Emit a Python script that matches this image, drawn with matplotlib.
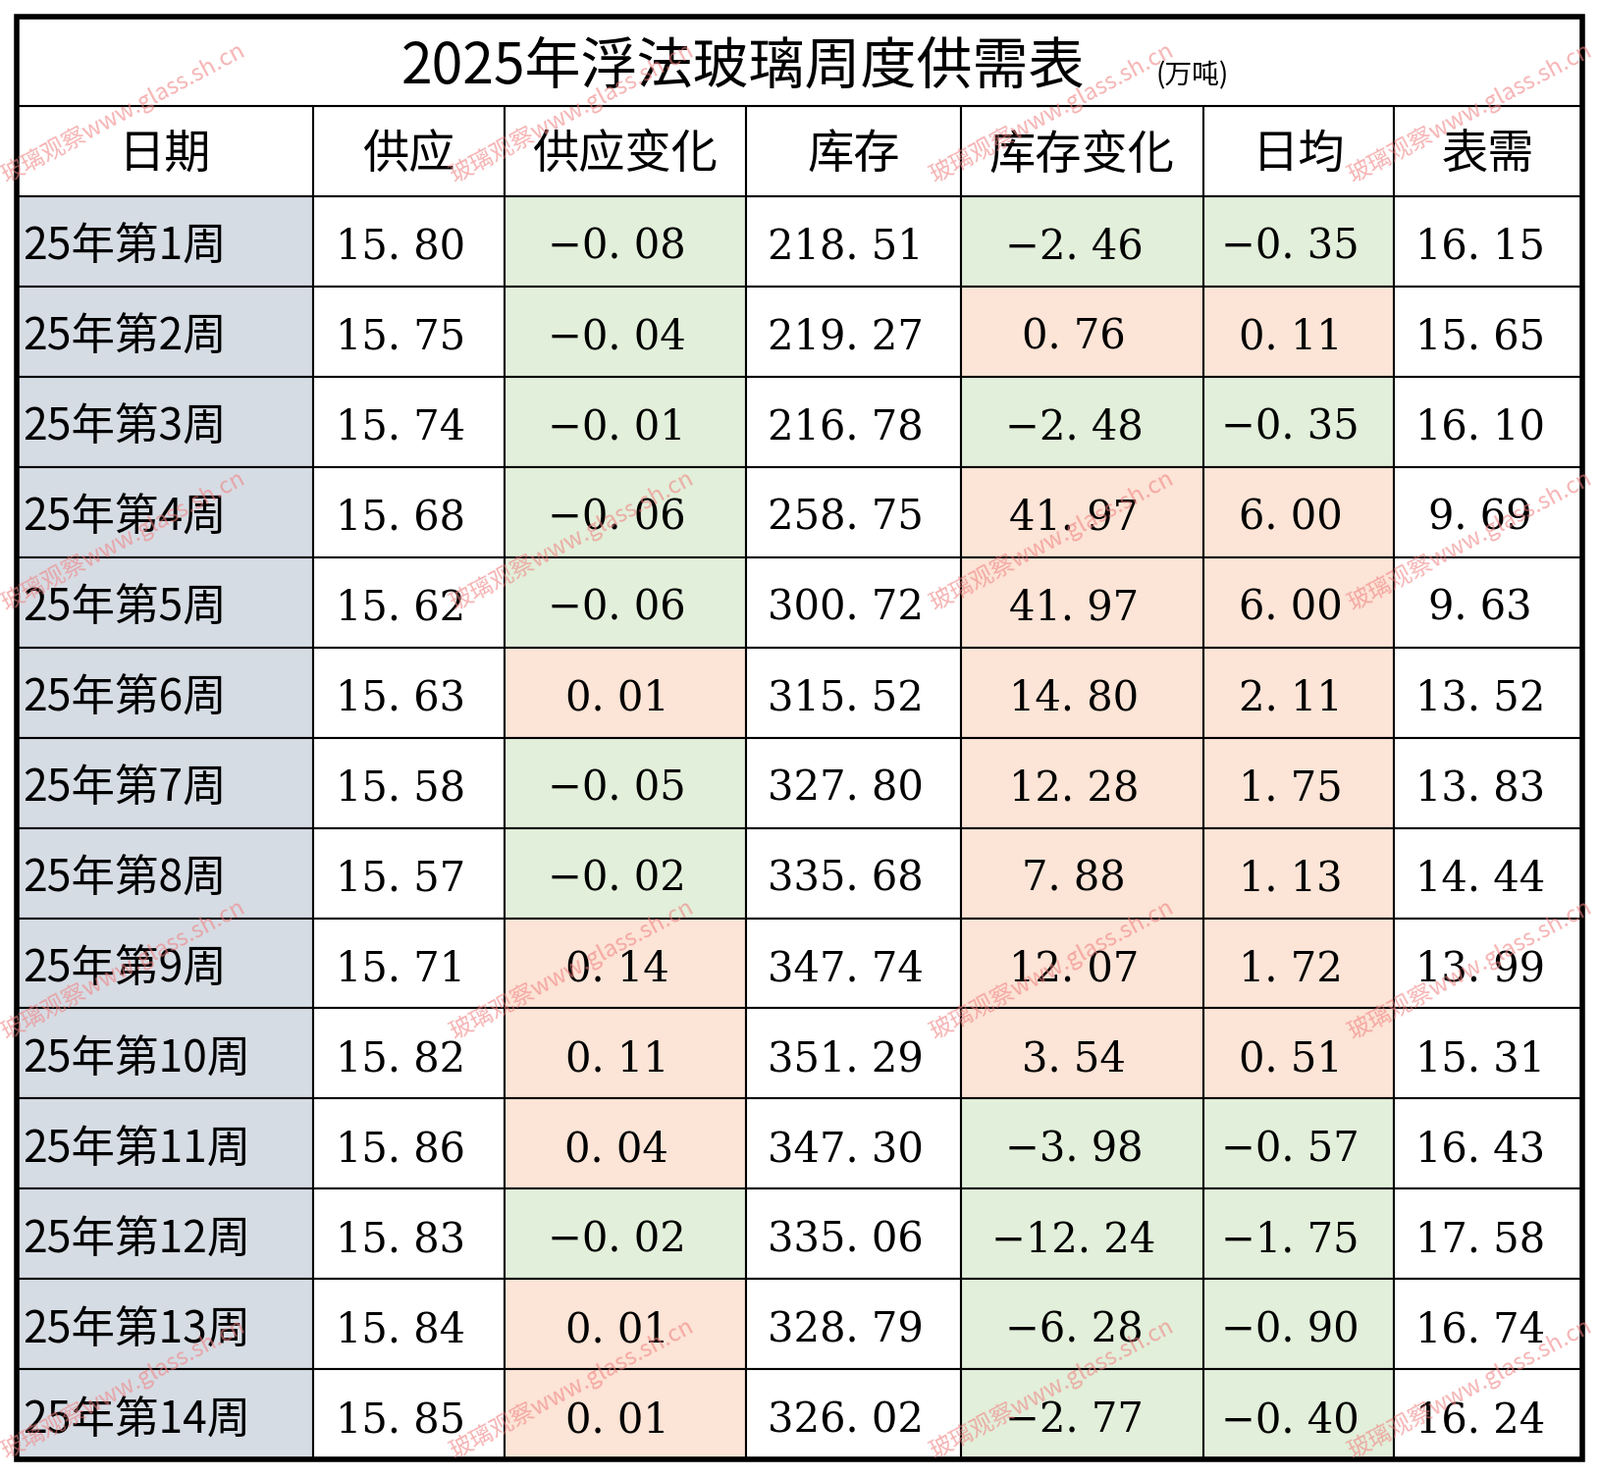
import matplotlib.pyplot as plt
from matplotlib import font_manager
from matplotlib.patches import Rectangle

# locate a CJK font by name
cjk_name = 'DejaVu Sans'
for f in font_manager.fontManager.ttflist:
    if 'CJK' in f.name:
        cjk_name = f.name
        if 'SC' in f.name:
            break
plt.rcParams['font.family'] = [cjk_name, 'DejaVu Sans']

headers = ['日期', '供应', '供应变化', '库存', '库存变化', '日均', '表需']
weeks = ['25年第%d周' % i for i in range(1, 15)]
supply = [15.80, 15.75, 15.74, 15.68, 15.62, 15.63, 15.58, 15.57, 15.71, 15.82, 15.86, 15.83, 15.84, 15.85]
supply_chg = [-0.08, -0.04, -0.01, -0.06, -0.06, 0.01, -0.05, -0.02, 0.14, 0.11, 0.04, -0.02, 0.01, 0.01]
stock = [218.51, 219.27, 216.78, 258.75, 300.72, 315.52, 327.80, 335.68, 347.74, 351.29, 347.30, 335.06, 328.79, 326.02]
stock_chg = [-2.46, 0.76, -2.48, 41.97, 41.97, 14.80, 12.28, 7.88, 12.07, 3.54, -3.98, -12.24, -6.28, -2.77]
daily = [-0.35, 0.11, -0.35, 6.00, 6.00, 2.11, 1.75, 1.13, 1.72, 0.51, -0.57, -1.75, -0.90, -0.40]
demand = [16.15, 15.65, 16.10, 9.69, 9.63, 13.52, 13.83, 14.44, 13.99, 15.31, 16.43, 17.58, 16.74, 16.24]

cols_x = [16, 307, 494, 731, 942, 1179, 1366, 1551]
top, title_b, head_b, bottom = 16, 104, 192, 1430
row_h = (bottom - head_b) / len(weeks)

GREEN, ORANGE, GREY = '#e2efda', '#fce4d6', '#d6dce4'

fig = plt.figure(figsize=(16.3, 15.04), dpi=100)
ax = fig.add_axes([0, 0, 1, 1])
ax.set_xlim(0, 1568)
ax.set_ylim(1446, 0)
ax.axis('off')


def fmt(v):
    return ('%.2f' % v).replace('.', '. ').replace('-', '−')


columns = [weeks, supply, supply_chg, stock, stock_chg, daily, demand]
for r in range(len(weeks)):
    y0 = head_b + r * row_h
    for c, data in enumerate(columns):
        x0, x1 = cols_x[c], cols_x[c + 1]
        color = 'white'
        if c == 0:
            color = GREY
        elif c in (2, 4, 5):
            color = GREEN if data[r] < 0 else ORANGE
        ax.add_patch(Rectangle((x0, y0), x1 - x0, row_h, facecolor=color,
                               edgecolor='black', linewidth=1.5))
        if c == 0:
            ax.text(x0 + 6, y0 + row_h / 2 + 6, data[r], fontsize=32, ha='left', va='center')
        else:
            ax.text((x0 + x1) / 2 - 8, y0 + row_h / 2 + 6, fmt(data[r]), fontsize=30,
                    ha='center', va='center', family='DejaVu Serif')

for c, h in enumerate(headers):
    x0, x1 = cols_x[c], cols_x[c + 1]
    ax.add_patch(Rectangle((x0, title_b), x1 - x0, head_b - title_b, facecolor='white',
                           edgecolor='black', linewidth=1.5))
    ax.text((x0 + x1) / 2, (title_b + head_b) / 2 + 4, h, fontsize=34, ha='center', va='center')

ax.add_patch(Rectangle((cols_x[0], top), cols_x[-1] - cols_x[0], title_b - top,
                       facecolor='white', edgecolor='black', linewidth=1.5))
ax.text(728, 66, '2025年浮法玻璃周度供需表', fontsize=41, ha='center', va='center')
ax.text(1168, 74, '(万吨)', fontsize=20, ha='center', va='center')

ax.add_patch(Rectangle((cols_x[0], top), cols_x[-1] - cols_x[0], bottom - top,
                       facecolor='none', edgecolor='black', linewidth=4, zorder=5))

# watermarks
wm = '玻璃观察www.glass.sh.cn'
for yy in (110, 530, 950, 1360):
    for xx in (120, 560, 1030, 1440):
        ax.text(xx, yy, wm, fontsize=17, color='#f08080', alpha=0.6, rotation=28,
                ha='center', va='center', zorder=6)

fig.savefig('out.png', dpi=100)
